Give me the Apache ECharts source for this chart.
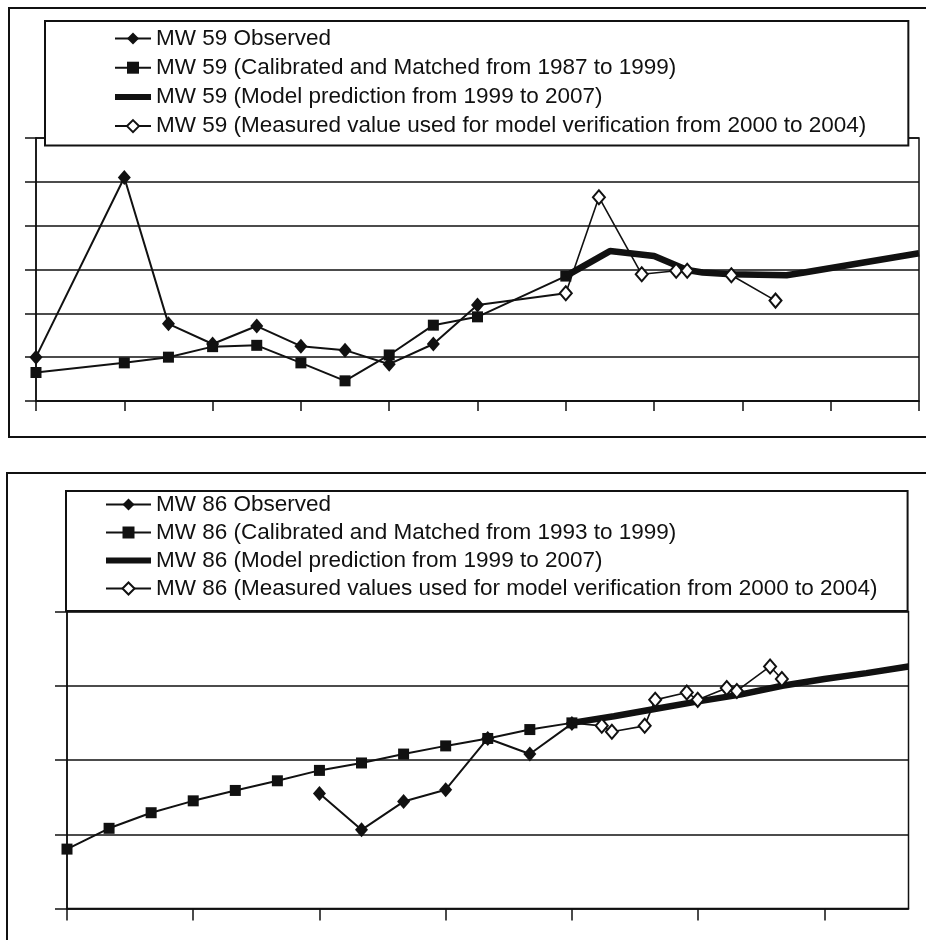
<!DOCTYPE html>
<html><head><meta charset="utf-8">
<script src="https://cdn.jsdelivr.net/npm/echarts@6/dist/echarts.min.js"></script>
<style>html,body{margin:0;padding:0;background:#fff}#c{width:926px;height:940px}</style>
</head><body><div id="c"></div>
<script>
// ---------- MW 59 (top chart) ----------
const ticks59 = [1987, 1989, 1991, 1993, 1995, 1997, 1999, 2001, 2003, 2005, 2007];
const names59 = [
  'MW 59 Observed',
  'MW 59 (Calibrated and Matched from 1987 to 1999)',
  'MW 59 (Model prediction from 1999 to 2007)',
  'MW 59 (Measured value used for model verification from 2000 to 2004)'
];
const obsYears59 = [1987, 1989, 1990, 1991, 1992, 1993, 1994, 1995, 1996, 1997, 1999];
const obs59      = [1.00, 5.10, 1.76, 1.30, 1.71, 1.25, 1.16, 0.84, 1.30, 2.19, 2.46];
const calYears59 = [1987, 1989, 1990, 1991, 1992, 1993, 1994, 1995, 1996, 1997, 1999];
const cal59      = [0.65, 0.87, 1.00, 1.24, 1.27, 0.87, 0.46, 1.05, 1.73, 1.92, 2.85];
const predYears59 = [1999, 2000, 2001, 2001.75, 2002.1, 2002.75, 2004, 2004.4, 2007];
const pred59      = [2.85, 3.42, 3.31, 2.99, 2.93, 2.89, 2.87, 2.93, 3.37];
const measYears59 = [1999, 1999.75, 2000.72, 2001.5, 2001.75, 2002.75, 2003.75];
const meas59      = [2.46, 4.65, 2.89, 2.97, 2.97, 2.87, 2.29];

// ---------- MW 86 (bottom chart) ----------
const ticks86 = [1987, 1990, 1993, 1996, 1999, 2002, 2005];
const names86 = [
  'MW 86 Observed',
  'MW 86 (Calibrated and Matched from 1993 to 1999)',
  'MW 86 (Model prediction from 1999 to 2007)',
  'MW 86 (Measured values used for model verification from 2000 to 2004)'
];
const obsYears86 = [1993, 1994, 1995, 1996, 1997, 1998, 1999];
const obs86      = [1.55, 1.06, 1.44, 1.60, 2.29, 2.08, 2.49];
const calYears86 = [1987, 1988, 1989, 1990, 1991, 1992, 1993, 1994, 1995, 1996, 1997, 1998, 1999];
const cal86      = [0.80, 1.08, 1.29, 1.45, 1.59, 1.72, 1.86, 1.96, 2.08, 2.19, 2.29, 2.41, 2.50];
const predYears86 = [1999, 2000, 2001, 2002, 2003, 2004, 2005, 2006, 2007];
const pred86      = [2.50, 2.59, 2.69, 2.79, 2.88, 3.00, 3.09, 3.17, 3.26];
const measYears86 = [1999, 1999.71, 1999.95, 2000.73, 2000.98, 2001.73, 2001.99, 2002.68, 2002.92, 2003.71, 2003.99];
const meas86      = [2.50, 2.46, 2.38, 2.46, 2.81, 2.91, 2.81, 2.97, 2.93, 3.26, 3.09];

const INK = '#111';
const pairs = (xs, ys) => xs.map((x, i) => [x, ys[i]]);

const chart = echarts.init(document.getElementById('c'), null, {renderer: 'canvas'});

function legendFor(names, left, top, padding, itemWidth, itemGap) {
  return {
    data: [
      {name: names[0], lineStyle: {width: 2}},
      {name: names[1], lineStyle: {width: 2}},
      {name: names[2], lineStyle: {width: 6}, itemStyle: {opacity: 0}},
      {name: names[3], lineStyle: {width: 2}}
    ],
    orient: 'vertical', left: left, top: top,
    padding: padding, itemWidth: itemWidth, itemHeight: 15, itemGap: itemGap,
    backgroundColor: '#fff', borderColor: INK, borderWidth: 2,
    selectedMode: false,
    textStyle: {fontFamily: '"Liberation Sans", Arial, sans-serif', fontSize: 22.5, color: INK}
  };
}
function xAxisFor(idx, ticks, tickLen) {
  return {
    gridIndex: idx, type: 'value', min: 1987, max: 2007,
    axisLine: {show: true, lineStyle: {color: INK, width: 1.5}},
    axisTick: {show: true, customValues: ticks, length: tickLen, lineStyle: {color: INK, width: 1.5}},
    axisLabel: {show: false}, splitLine: {show: false}
  };
}
function yAxisFor(idx, max, tickLen) {
  return {
    gridIndex: idx, type: 'value', min: 0, max: max, interval: 1,
    axisLine: {show: true, lineStyle: {color: INK, width: 1.5}},
    axisTick: {show: true, length: tickLen, lineStyle: {color: INK, width: 1.5}},
    axisLabel: {show: false},
    splitLine: {show: true, lineStyle: {color: INK, width: 1.6}}
  };
}
function seriesFor(idx, names, o, c, p, m, hideFirstMeas) {
  const measData = m.map((d, i) => (hideFirstMeas && i === 0) ? {value: d, symbol: 'none'} : d);
  return [
    {name: names[1], type: 'line', xAxisIndex: idx, yAxisIndex: idx, data: c, z: 2,
     symbol: 'rect', symbolSize: 11, itemStyle: {color: INK}, lineStyle: {color: INK, width: 2}},
    {name: names[0], type: 'line', xAxisIndex: idx, yAxisIndex: idx, data: o, z: 3,
     symbol: 'diamond', symbolSize: [13, 15], itemStyle: {color: INK}, lineStyle: {color: INK, width: 2}},
    {name: names[2], type: 'line', xAxisIndex: idx, yAxisIndex: idx, data: p, z: 4,
     symbol: 'none', lineStyle: {color: INK, width: 6.5}, itemStyle: {color: INK}},
    {name: names[3], type: 'line', xAxisIndex: idx, yAxisIndex: idx, data: measData, z: 5,
     symbol: 'diamond', symbolSize: [12, 14],
     itemStyle: {color: '#fff', borderColor: INK, borderWidth: 2},
     lineStyle: {color: INK, width: 1.6}}
  ];
}

const option = {
  animation: false,
  backgroundColor: '#fff',
  graphic: [
    {type: 'rect', shape: {x: 9, y: 8, width: 940, height: 429}, style: {fill: 'none', stroke: INK, lineWidth: 2}, z: 0},
    {type: 'rect', shape: {x: 7, y: 473, width: 940, height: 500}, style: {fill: 'none', stroke: INK, lineWidth: 2}, z: 0}
  ],
  legend: [
    legendFor(names59, 45, 21, [6, 42, 8, 67], 36, 6.2),
    legendFor(names86, 66, 491, [2, 30, 11, 37], 45, 5)
  ],
  grid: [
    {left: 36, top: 138, width: 883, height: 263, show: true, borderColor: INK, borderWidth: 1.5, containLabel: false},
    {left: 67, top: 611.5, width: 841.5, height: 297, show: true, borderColor: INK, borderWidth: 1.5, containLabel: false}
  ],
  xAxis: [xAxisFor(0, ticks59, 10), xAxisFor(1, ticks86, 12)],
  yAxis: [yAxisFor(0, 6, 11), yAxisFor(1, 4, 12)],
  series: [].concat(
    seriesFor(0, names59, pairs(obsYears59, obs59), pairs(calYears59, cal59), pairs(predYears59, pred59), pairs(measYears59, meas59), false),
    seriesFor(1, names86, pairs(obsYears86, obs86), pairs(calYears86, cal86), pairs(predYears86, pred86), pairs(measYears86, meas86), true)
  )
};
chart.setOption(option);
</script>
</body></html>
